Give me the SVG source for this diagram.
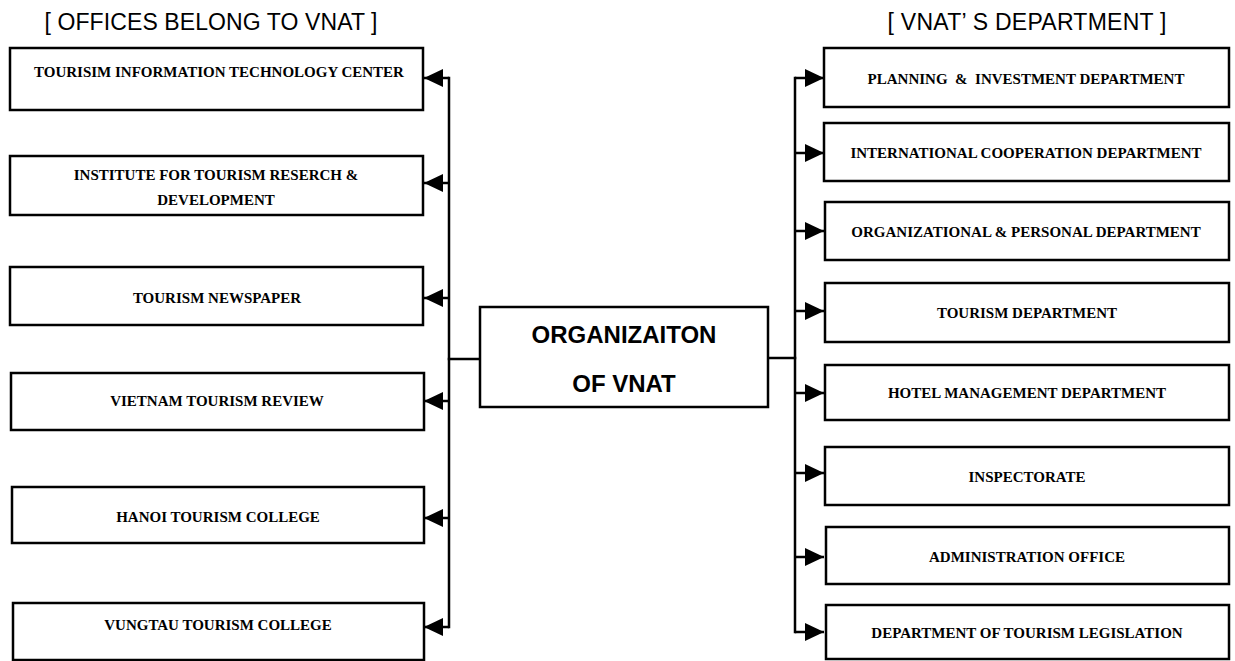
<svg xmlns="http://www.w3.org/2000/svg" width="1235" height="661" viewBox="0 0 1235 661">
<style>
.box{fill:#fff;stroke:#000;stroke-width:2.5}
.lbl{font-family:"Liberation Serif","Times New Roman",serif;font-weight:bold;font-size:15px;fill:#000;text-anchor:middle}
.hdr{font-family:"Liberation Sans",Arial,sans-serif;font-size:23px;fill:#000;text-anchor:middle}
.ctr{font-family:"Liberation Sans",Arial,sans-serif;font-weight:bold;font-size:24px;fill:#000;text-anchor:middle}
.ln{fill:none;stroke:#000;stroke-width:2.5;stroke-linecap:square}
.ar{fill:none;stroke:#000;stroke-width:2.5;marker-end:url(#ah)}
</style>
<defs>
<marker id="ah" markerUnits="userSpaceOnUse" markerWidth="20" markerHeight="18" refX="19" refY="9" orient="auto" viewBox="0 0 20 18">
<path d="M0,0 L19,9 L0,18 z" fill="#000"/>
</marker>
</defs>
<rect width="1235" height="661" fill="#fff"/>
<text class="hdr" x="211" y="30" textLength="333" lengthAdjust="spacing">[ OFFICES BELONG TO VNAT ]</text>
<text class="hdr" x="1027" y="30" textLength="279" lengthAdjust="spacing">[ VNAT’ S DEPARTMENT ]</text>

<g id="connectors">
<path class="ln" d="M449,78 V627"/>
<path class="ln" d="M449,359 H480"/>
<path class="ar" d="M449,78 H424"/>
<path class="ar" d="M449,183 H424"/>
<path class="ar" d="M449,298 H424"/>
<path class="ar" d="M449,401 H424"/>
<path class="ar" d="M449,518 H424"/>
<path class="ar" d="M449,627 H424"/>
<path class="ln" d="M795,78 V632"/>
<path class="ln" d="M768,358 H795"/>
<path class="ar" d="M795,78 H824"/>
<path class="ar" d="M795,153 H824"/>
<path class="ar" d="M795,231 H824"/>
<path class="ar" d="M795,311 H824"/>
<path class="ar" d="M795,393 H824"/>
<path class="ar" d="M795,473 H824"/>
<path class="ar" d="M795,557 H824"/>
<path class="ar" d="M795,632 H824"/>
</g>

<g id="center">
<rect class="box" x="480" y="307" width="288" height="100"/>
<text class="ctr" x="624" y="343">ORGANIZAITON</text>
<text class="ctr" x="624" y="392">OF VNAT</text>
</g>

<g id="office1"><rect class="box" x="10" y="48" width="413" height="62"/><text class="lbl" x="219" y="77">TOURISIM INFORMATION TECHNOLOGY CENTER</text></g>
<g id="office2"><rect class="box" x="10" y="156" width="413" height="59"/><text class="lbl" x="216" y="180">INSTITUTE FOR TOURISM RESERCH &amp;</text><text class="lbl" x="216" y="205">DEVELOPMENT</text></g>
<g id="office3"><rect class="box" x="10" y="267" width="413" height="58"/><text class="lbl" x="217" y="303">TOURISM NEWSPAPER</text></g>
<g id="office4"><rect class="box" x="11" y="373" width="413" height="57"/><text class="lbl" x="217" y="406">VIETNAM TOURISM REVIEW</text></g>
<g id="office5"><rect class="box" x="12" y="487" width="412" height="56"/><text class="lbl" x="218" y="522">HANOI TOURISM COLLEGE</text></g>
<g id="office6"><rect class="box" x="13" y="603" width="411" height="57"/><text class="lbl" x="218" y="630">VUNGTAU TOURISM COLLEGE</text></g>

<g id="dept1"><rect class="box" x="824" y="48" width="405" height="59"/><text class="lbl" x="1026" y="84" xml:space="preserve">PLANNING  &amp;  INVESTMENT DEPARTMENT</text></g>
<g id="dept2"><rect class="box" x="824" y="123" width="405" height="58"/><text class="lbl" x="1026" y="158">INTERNATIONAL COOPERATION DEPARTMENT</text></g>
<g id="dept3"><rect class="box" x="825" y="202" width="404" height="58"/><text class="lbl" x="1026" y="237">ORGANIZATIONAL &amp; PERSONAL DEPARTMENT</text></g>
<g id="dept4"><rect class="box" x="825" y="283" width="404" height="59"/><text class="lbl" x="1027" y="318">TOURISM DEPARTMENT</text></g>
<g id="dept5"><rect class="box" x="825" y="365" width="404" height="55"/><text class="lbl" x="1027" y="398">HOTEL MANAGEMENT DEPARTMENT</text></g>
<g id="dept6"><rect class="box" x="825" y="447" width="404" height="58"/><text class="lbl" x="1027" y="482">INSPECTORATE</text></g>
<g id="dept7"><rect class="box" x="826" y="527" width="403" height="57"/><text class="lbl" x="1027" y="562">ADMINISTRATION OFFICE</text></g>
<g id="dept8"><rect class="box" x="826" y="605" width="403" height="54"/><text class="lbl" x="1027" y="638">DEPARTMENT OF TOURISM LEGISLATION</text></g>
</svg>
